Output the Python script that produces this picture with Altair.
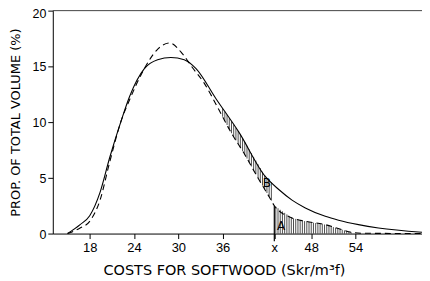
import altair as alt
import pandas as pd
import numpy as np

# Solid curve (fitted distribution)
solid_x = [15, 16.7, 18, 19.4, 20.7, 22.3, 23.4, 25.4, 27.2, 29.0, 30.8, 32.4, 35.1,
           38.2, 41.8, 43.6, 45.4, 47.2, 49.9, 51.7, 54.4, 57.1, 63]
solid_y = [0, 0.8, 1.6, 3.7, 6.8, 10.2, 12.3, 14.8, 15.6, 15.8, 15.6, 14.8, 12.1,
           9.1, 5.1, 3.95, 3.0, 2.3, 1.55, 1.2, 0.8, 0.5, 0.12]

# Dashed curve
dash_x = [15, 16.7, 18, 19.4, 20.7, 22.3, 23.4, 25.4, 27.0, 28.8, 30.6, 31.9, 33.5,
          35.5, 37.2, 38.9, 40.6, 42.3, 43.0, 45.4, 47.2, 49.9, 52.1, 53.5, 55, 63]
dash_y = [0, 0.5, 1.1, 3.0, 6.4, 10.2, 12.0, 14.8, 16.4, 17.1, 16.1, 14.9, 13.5,
          11.1, 9.0, 7.2, 5.2, 3.3, 2.5, 1.4, 1.1, 0.8, 0.36, 0.1, 0.03, 0.0]

x_ticks = [18, 21, 24, 27, 30, 33, 36, 39, 43, 45, 48, 51, 54]
y_ticks = [0, 5, 10, 15, 20]
x_mark = 43
region_b = (36.0, 42.9)
region_a = (43.2, 53.5)
labels = ["B", "A"]
label_x = [42.0, 43.9]
label_y = [4.5, 0.65]

FONT = "DejaVu Sans"
xs = alt.Scale(domain=[13, 63], nice=False, zero=False)
ys = alt.Scale(domain=[0, 20], nice=False)

solid_df = pd.DataFrame({"v": solid_x, "p": solid_y})
dash_df = pd.DataFrame({"v": dash_x, "p": dash_y})

# hatching (vertical strokes) between curves
hb = np.arange(region_b[0], region_b[1], 0.3)
hatch_b = pd.DataFrame({"v": hb,
                        "lo": np.interp(hb, dash_x, dash_y),
                        "hi": np.interp(hb, solid_x, solid_y)})
ha = np.arange(region_a[0], region_a[1], 0.3)
hatch_a = pd.DataFrame({"v": ha, "lo": 0.0, "hi": np.interp(ha, dash_x, dash_y)})
hatch_df = pd.concat([hatch_b, hatch_a], ignore_index=True)

xmark_df = pd.DataFrame({"v": [x_mark], "lo": [-0.7], "hi": [float(np.interp(x_mark, dash_x, dash_y))]})

solid = alt.Chart(solid_df).mark_line(color="black", strokeWidth=1.1, interpolate="monotone").encode(
    x=alt.X("v:Q", scale=xs, axis=alt.Axis(
        values=x_ticks,
        labelExpr="datum.value == 43 ? 'x' : (datum.value % 6 == 0 ? datum.label : '')",
        title="COSTS FOR SOFTWOOD (Skr/m³f)",
        titleX=172, titleY=41, titleBaseline="alphabetic", titleAlign="center",
        titleFont=FONT, titleFontSize=14.5, titleFontWeight="normal", titleColor="black",
        labelFont="Liberation Sans", labelFontSize=13, labelColor="black",
        tickSize=5, labelPadding=3, grid=False)),
    y=alt.Y("p:Q", scale=ys, axis=alt.Axis(
        values=y_ticks,
        title="PROP. OF TOTAL VOLUME (%)",
        titleX=-33, titleY=112, titleAngle=-90, titleBaseline="alphabetic", titleAlign="center",
        titleFont=FONT, titleFontSize=13, titleFontWeight="normal", titleColor="black",
        labelFont="Liberation Sans", labelFontSize=12.5, labelColor="black",
        labelOffset=alt.condition("datum.value == 20", alt.value(3), alt.value(0.5)),
        tickSize=5, labelPadding=2, grid=False)),
)

dashed = alt.Chart(dash_df).mark_line(color="black", strokeWidth=1.1, strokeDash=[6, 4],
                                      interpolate="monotone").encode(
    x=alt.X("v:Q", scale=xs),
    y=alt.Y("p:Q", scale=ys),
)

hatch = alt.Chart(hatch_df).mark_rule(color="black", strokeWidth=0.7).encode(
    x=alt.X("v:Q", scale=xs),
    y=alt.Y("lo:Q", scale=ys),
    y2="hi:Q",
)

xmark = alt.Chart(xmark_df).mark_rule(color="black", strokeWidth=1.2).encode(
    x=alt.X("v:Q", scale=xs),
    y=alt.Y("lo:Q", scale=ys),
    y2="hi:Q",
)

top_df = pd.DataFrame({"x0": [13], "x1": [63], "y": [20]})
top = alt.Chart(top_df).mark_rule(color="#444", strokeWidth=1).encode(
    x=alt.X("x0:Q", scale=xs), x2="x1:Q",
    y=alt.Y("y:Q", scale=ys),
)

lab_df = pd.DataFrame({"t": labels, "v": label_x, "p": label_y})
text = alt.Chart(lab_df).mark_text(font=FONT, fontSize=12, color="black").encode(
    x=alt.X("v:Q", scale=xs),
    y=alt.Y("p:Q", scale=ys),
    text="t:N",
)

chart = alt.layer(solid, dashed, hatch, xmark, top, text).properties(
    width=371, height=224,
    padding={"left": 45, "top": 2, "right": 0, "bottom": 44},
    autosize=alt.AutoSizeParams(type="none"),
).configure_view(stroke=None).configure_axis(
    domainColor="black", tickColor="black", domainWidth=1, tickWidth=1
)

chart.save("out.html", embed_options={"renderer": "svg", "actions": False})
